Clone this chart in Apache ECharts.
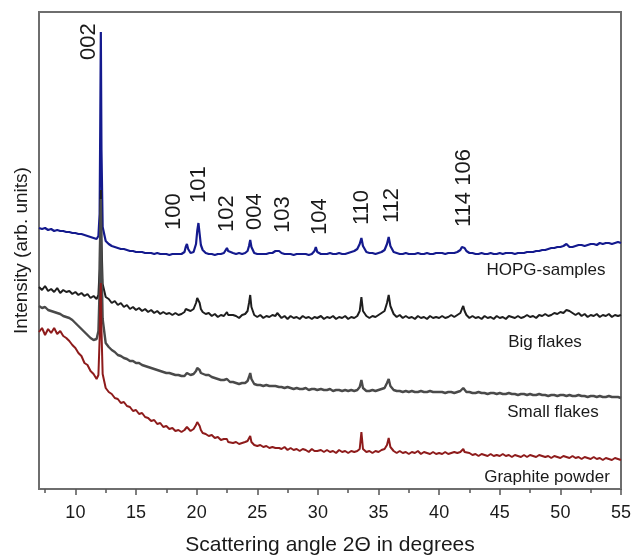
<!DOCTYPE html>
<html>
<head>
<meta charset="utf-8">
<script src="https://cdn.jsdelivr.net/npm/echarts@6.0.0/dist/echarts.min.js"></script>
<style>
html,body{margin:0;padding:0;background:#fff;}
#main{width:634px;height:558px;}
</style>
</head>
<body>
<div id="main"></div>
<script>
// scattering angle 2theta (deg)
var angles=[7,7.25,7.5,7.75,8,8.25,8.5,8.75,9,9.25,
	9.5,9.75,10,10.25,10.5,10.75,11,11.25,11.5,11.75,
	11.9,12,12.05,12.1,12.15,12.25,12.5,12.75,13,13.25,
	13.5,13.75,14,14.25,14.5,14.75,15,15.25,15.5,15.75,
	16,16.25,16.5,16.75,17,17.25,17.5,17.75,18,18.25,
	18.5,18.75,19,19.1,19.2,19.3,19.5,19.75,19.95,20.05,
	20.15,20.25,20.35,20.5,20.75,21,21.25,21.5,21.75,22,
	22.25,22.4,22.5,22.6,22.75,23,23.25,23.5,23.75,24,
	24.2,24.32,24.42,24.52,24.75,25,25.25,25.5,25.75,26,
	26.25,26.5,26.65,26.8,27,27.25,27.5,27.75,28,28.25,
	28.5,28.75,29,29.25,29.5,29.72,29.83,29.95,30.25,30.5,
	30.75,31,31.25,31.5,31.75,32,32.25,32.5,32.75,33,
	33.25,33.45,33.59,33.72,34,34.25,34.5,34.75,35,35.25,
	35.5,35.7,35.84,35.98,36.25,36.5,36.75,37,37.25,37.5,
	37.75,38,38.25,38.5,38.75,39,39.25,39.5,39.75,40,
	40.25,40.5,40.75,41,41.25,41.5,41.75,41.88,41.99,42.1,
	42.25,42.5,42.75,43,43.25,43.5,43.75,44,44.25,44.5,
	44.75,45,45.25,45.5,45.75,46,46.25,46.5,46.75,47,
	47.25,47.5,47.75,48,48.25,48.5,48.75,49,49.25,49.5,
	49.75,50,50.25,50.5,50.75,51,51.25,51.5,51.75,52,
	52.25,52.5,52.75,53,53.25,53.5,53.75,54,54.25,54.5,
	54.75,55];
// HOPG-samples (offset, arb. units)
var hopg=[261,260,261,259,260,258,259,258,258,257,
	257,256,256,255,255,254,253,252,251,250,
	253,275,360,457,340,262,248,245,243,242,
	241,240,240,239,238,238,237,237,237,236,
	236,236,235,236,235,235,235,234,235,235,
	235,235,237,242,245,240,236,237,245,258,
	266,255,244,239,236,235,235,234,235,235,
	236,238,241,238,237,236,235,236,235,236,
	238,243,249,242,236,235,235,235,235,236,
	236,238,240,238,236,235,235,235,234,235,
	235,235,235,234,235,238,242,237,235,235,
	235,236,235,235,236,235,235,236,237,238,
	240,245,251,243,237,236,236,235,236,237,
	239,245,252,243,237,236,235,235,236,235,
	235,235,236,235,235,236,235,235,236,236,
	236,235,236,236,236,237,239,242,244,241,
	238,236,236,235,235,236,235,235,236,235,
	235,236,235,236,236,236,235,236,236,236,
	237,237,237,238,238,239,239,240,241,241,
	242,242,243,245,242,242,243,244,244,243,
	244,245,245,244,246,245,246,246,245,246,
	247,246];
// Big flakes
var bigFlakes=[202,199,203,198,200,197,201,196,199,197,
	198,195,197,194,196,193,195,191,193,190,
	194,220,270,299,250,205,192,190,186,188,
	184,186,182,184,180,182,179,181,178,180,
	177,179,176,178,175,177,175,176,174,176,
	174,175,177,180,181,179,178,180,186,191,
	193,186,180,177,175,176,173,175,172,174,
	173,175,177,174,172,174,173,171,174,175,
	178,186,194,182,174,172,174,171,173,172,
	174,173,176,174,171,173,170,173,171,172,
	170,173,171,172,170,172,174,171,173,170,
	172,171,173,170,172,171,173,170,172,171,
	173,178,192,178,173,171,173,172,174,176,
	178,186,194,183,175,172,174,171,173,171,
	172,170,173,171,172,170,173,171,172,171,
	173,171,172,174,172,174,176,180,183,178,
	174,171,173,171,172,170,173,171,172,170,
	173,171,172,170,173,172,171,173,171,172,
	174,172,173,171,174,173,175,173,174,176,
	175,177,176,179,178,176,174,176,173,175,
	172,174,173,175,172,174,173,175,172,174,
	173,174];
// Small flakes
var smallFlakes=[183,181,182,179,178,177,176,175,173,172,
	171,169,166,163,160,157,154,151,149,150,
	158,200,260,290,230,170,146,142,139,137,
	134,133,131,130,128,128,126,126,124,123,
	122,121,120,119,118,117,116,116,115,114,
	114,113,113,115,116,115,114,115,118,121,
	122,119,116,115,114,114,112,111,110,109,
	109,109,110,108,107,107,106,105,106,106,
	108,112,116,110,105,104,104,103,104,103,
	103,103,104,102,102,101,102,101,100,101,
	100,100,101,99,100,100,101,99,100,99,
	99,100,98,99,99,98,99,98,99,98,
	99,102,109,101,98,98,99,98,99,100,
	101,106,110,103,99,98,98,97,98,97,
	98,97,97,98,97,97,98,97,97,97,
	97,96,97,97,96,97,98,100,101,99,
	97,97,96,96,97,96,96,95,96,96,
	95,96,95,95,96,95,95,94,95,95,
	94,95,94,94,95,94,94,93,94,94,
	93,94,94,93,94,93,93,94,93,93,
	92,93,93,92,93,92,92,93,92,92,
	92,91];
// Graphite powder
var powder=[157,161,154,160,156,161,155,158,153,151,
	148,144,141,136,133,126,124,118,115,110,
	114,150,190,206,160,115,101,97,95,91,
	90,86,87,83,82,78,79,75,76,72,
	71,68,69,65,66,62,63,60,61,58,
	59,57,59,60,62,60,58,60,64,67,
	68,63,59,56,55,53,54,51,52,49,
	50,48,50,47,48,46,47,45,46,47,
	48,50,53,47,44,43,44,42,43,41,
	42,41,43,41,40,42,39,41,39,40,
	38,40,39,37,40,38,40,38,39,37,
	39,37,38,36,39,37,38,36,38,37,
	38,40,57,40,37,38,36,38,37,39,
	40,44,51,42,38,36,38,36,37,35,
	37,36,38,35,37,36,35,37,35,36,
	35,37,35,36,37,36,37,39,40,37,
	35,36,34,35,33,35,34,33,35,33,
	34,33,35,33,34,32,34,33,32,34,
	32,34,33,32,34,33,32,33,31,33,
	32,31,33,32,31,33,31,32,30,32,
	31,30,32,30,31,29,31,30,29,31,
	30,29];

var peakNames=['002','100','101','102','004','103','104','110','112','114 106'];
var peakAngles=[12.1,19.2,20.15,22.5,24.42,26.65,29.83,33.59,35.84,41.99];
var sampleNames=['HOPG-samples','Big flakes','Small flakes','Graphite powder'];
var xTicks=[10,15,20,25,30,35,40,45,50,55];
var xMinorTicks=[7.5,12.5,17.5,22.5,27.5,32.5,37.5,42.5,47.5,52.5];

var font='"Liberation Sans", Arial, sans-serif';
var txt='#1a1a1a';
var boxColor='#6e6e6e';

var pairs=function(vals){
	var out=[];
	for(var i=0;i<angles.length;i++){
		out.push([angles[i],vals[i]]);
	}
	return out;
}
var peakTop=function(a){
	return hopg[angles.indexOf(a)];
}

var refLines=[];
for(var i=0;i<peakAngles.length;i++){
	refLines.push([{coord:[peakAngles[i],-9]},{coord:[peakAngles[i],peakTop(peakAngles[i])]}]);
}

var dom=document.getElementById('main');
var myChart=echarts.init(dom,null,{renderer:'canvas'});
var option={
	animation:false,
	backgroundColor:'#fff',
	textStyle:{fontFamily:font},
	grid:{left:39,right:13,top:12,bottom:69,outerBoundsMode:'none',containLabel:false,
		show:true,borderColor:boxColor,borderWidth:2,backgroundColor:'transparent'},
	xAxis:[{
		type:'value',min:7,max:55,
		name:'Scattering angle 2\u0398 in degrees',
		nameLocation:'middle',nameGap:46,
		nameTextStyle:{fontSize:21,color:txt,fontFamily:font},
		axisLine:{show:true,lineStyle:{color:boxColor,width:2}},
		axisTick:{show:true,customValues:xTicks,length:6,lineStyle:{color:'#555',width:1.5}},
		axisLabel:{customValues:xTicks,fontSize:18,color:txt,margin:15,fontFamily:font},
		splitLine:{show:false}
	},{
		type:'value',min:7,max:55,position:'bottom',gridIndex:0,
		axisLine:{show:false},
		axisTick:{show:true,customValues:xMinorTicks,length:4,lineStyle:{color:'#555',width:1.5}},
		axisLabel:{show:false},
		splitLine:{show:false}
	}],
	yAxis:{
		type:'value',min:0,max:477,
		name:'Intensity (arb. units)',
		nameLocation:'middle',nameGap:8,
		nameTextStyle:{fontSize:19,color:txt,fontFamily:font},
		axisLine:{show:false},axisTick:{show:false},axisLabel:{show:false},splitLine:{show:false}
	},
	series:[{
		type:'line',data:[],z:1,silent:true,clip:false,
		markLine:{
			silent:true,symbol:['none','none'],
			label:{show:false},
			lineStyle:{type:'dotted',color:'#a8a8a8',width:1},
			data:refLines
		}
	},{
		name:sampleNames[0],type:'line',data:pairs(hopg),showSymbol:false,symbol:'none',z:2,
		lineStyle:{color:'#141a8e',width:2.2}
	},{
		name:sampleNames[1],type:'line',data:pairs(bigFlakes),showSymbol:false,symbol:'none',z:2,
		lineStyle:{color:'#1e1e1e',width:2}
	},{
		name:sampleNames[2],type:'line',data:pairs(smallFlakes),showSymbol:false,symbol:'none',z:2,
		lineStyle:{color:'#4a4a4a',width:2.4}
	},{
		name:sampleNames[3],type:'line',data:pairs(powder),showSymbol:false,symbol:'none',z:2,
		lineStyle:{color:'#8e1b1b',width:2}
	}]
};
myChart.setOption(option);

// peak index labels, shifted [dx, gap above peak] in px
var labelShift=[[-12,-28],[-13,14],[0,20],[0,16],[5,10],[6,16],[4,12],[1,13],[3,14],[1,18]];
var samplePos=[[546,270],[545,342],[553,412],[547,477]];
var graphics=[];
for(var i=0;i<peakNames.length;i++){
	var p=myChart.convertToPixel({xAxisIndex:0,yAxisIndex:0},[peakAngles[i],peakTop(peakAngles[i])]);
	graphics.push({
		type:'text',x:p[0]+labelShift[i][0],y:p[1]-labelShift[i][1],rotation:Math.PI/2,z:10,
		style:{text:peakNames[i],font:'22px '+font,fill:txt,textAlign:'left',textVerticalAlign:'middle'}
	});
}
for(var j=0;j<sampleNames.length;j++){
	graphics.push({
		type:'text',x:samplePos[j][0],y:samplePos[j][1],z:10,
		style:{text:sampleNames[j],font:'17px '+font,fill:txt,textAlign:'center',textVerticalAlign:'middle'}
	});
}
myChart.setOption({graphic:graphics});
</script>
</body>
</html>
